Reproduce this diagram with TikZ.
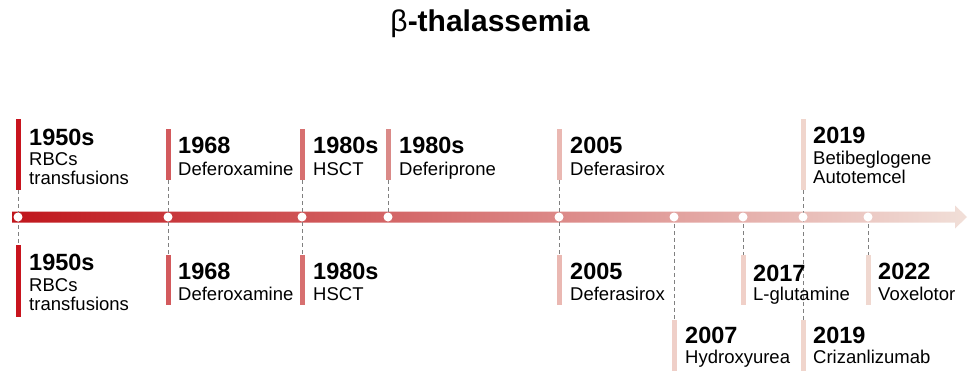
\documentclass[tikz,border=0pt]{standalone}
\usepackage{fontspec}
\setmainfont{Liberation Sans}
\usetikzlibrary{positioning}
\definecolor{tRed}{HTML}{C0161C}
\definecolor{tMid}{HTML}{DF9A96}
\definecolor{tPink}{HTML}{F1DFD8}
\definecolor{cA}{HTML}{C8141E}
\definecolor{cB}{HTML}{D35A5D}
\definecolor{cC}{HTML}{D77070}
\definecolor{cD}{HTML}{DA8A88}
\definecolor{cE}{HTML}{EAB8B2}
\definecolor{cF}{HTML}{EFCFC8}
\definecolor{cG}{HTML}{F0D0C8}
\definecolor{cH}{HTML}{F0D5CC}
\definecolor{cI}{HTML}{F0D8D0}

\begin{document}
\begin{tikzpicture}[x=1pt, y=-1pt,
  yr/.style={anchor=base west, inner sep=0pt, font=\fontsize{23.5}{26}\selectfont\bfseries},
  lbl/.style={anchor=base west, inner sep=0pt, align=left,
              font=\fontsize{18.5}{19}\selectfont},
  stem/.style={line width=5pt},
  guide/.style={draw=gray, line width=1pt, dash pattern=on 4pt off 3pt},
  dot/.style={circle, fill=white, inner sep=0pt, minimum size=9pt},
]
  \useasboundingbox (0,0) rectangle (969,370);

  % title
  \node (title) at (490,24) {\fontsize{30}{34}\selectfont β\bfseries -thalassemia};

  % main axis
  \shade[left color=tRed, middle color=tMid, right color=tPink]
    (12,211.5) -- (955,211.5) -- (955,205.5) -- (967,217) -- (955,228.5)
    -- (955,222.5) -- (12,222.5) -- cycle;

  % bar ends
  \coordinate (a1) at (18,119);  \coordinate (a2) at (18,190);
  \coordinate (a3) at (18,245);  \coordinate (a4) at (18,317);
  \coordinate (b1) at (168,129); \coordinate (b2) at (168,180);
  \coordinate (b3) at (168,255); \coordinate (b4) at (168,305);
  \coordinate (c1) at (302,129); \coordinate (c2) at (302,180);
  \coordinate (c3) at (302,255); \coordinate (c4) at (302,305);
  \coordinate (d1) at (388,129); \coordinate (d2) at (388,180);
  \coordinate (e1) at (559,129); \coordinate (e2) at (559,180);
  \coordinate (e3) at (559,255); \coordinate (e4) at (559,305);
  \coordinate (f3) at (674,320); \coordinate (f4) at (674,372);
  \coordinate (g3) at (743,255); \coordinate (g4) at (743,305);
  \coordinate (h1) at (803,119); \coordinate (h2) at (803,190);
  \coordinate (h3) at (803,320); \coordinate (h4) at (803,372);
  \coordinate (i3) at (868,255); \coordinate (i4) at (868,305);

  % dashed guides
  \draw[guide] (a2) -- (a3);
  \draw[guide] (b2) -- (b3);
  \draw[guide] (c2) -- (c3);
  \draw[guide] (d2) -- (d1 |- 0,217);
  \draw[guide] (e2) -- (e3);
  \draw[guide] (f3 |- 0,217) -- (f3);
  \draw[guide] (g3 |- 0,217) -- (g3);
  \draw[guide] (h2) -- (h3);
  \draw[guide] (i3 |- 0,217) -- (i3);

  % dots
  \node[dot] (da) at (18,217) {};
  \node[dot] (db) at (168,217) {};
  \node[dot] (dc) at (302,217) {};
  \node[dot] (dd) at (388,217) {};
  \node[dot] (de) at (559,217) {};
  \node[dot] (df) at (674,217) {};
  \node[dot] (dg) at (743,217) {};
  \node[dot] (dh) at (803,217) {};
  \node[dot] (di) at (868,217) {};

  % bars
  \draw[stem, cA] (a1) -- (a2);  \draw[stem, cA] (a3) -- (a4);
  \draw[stem, cB] (b1) -- (b2);  \draw[stem, cB] (b3) -- (b4);
  \draw[stem, cC] (c1) -- (c2);  \draw[stem, cC] (c3) -- (c4);
  \draw[stem, cD] (d1) -- (d2);
  \draw[stem, cE] (e1) -- (e2);  \draw[stem, cE] (e3) -- (e4);
  \draw[stem, cF] (f3) -- (f4);
  \draw[stem, cG] (g3) -- (g4);
  \draw[stem, cH] (h1) -- (h2);  \draw[stem, cH] (h3) -- (h4);
  \draw[stem, cI] (i3) -- (i4);

  % above the axis (multi-line labels sit on their last line)
  \node[yr] (ya1) at (29,145) {1950s};
  \node[lbl] (la1) at (29,184) {RBCs\\transfusions};
  \node[yr] (yb1) at (178,153) {1968};
  \node[lbl] (lb1) at (178,175) {Deferoxamine};
  \node[yr] (yc1) at (313,153) {1980s};
  \node[lbl] (lc1) at (313,175) {HSCT};
  \node[yr] (yd1) at (399,153) {1980s};
  \node[lbl] (ld1) at (399,175) {Deferiprone};
  \node[yr] (ye1) at (570,153) {2005};
  \node[lbl] (le1) at (570,175) {Deferasirox};
  \node[yr] (yh1) at (813,143) {2019};
  \node[lbl] (lh1) at (813,183) {Betibeglogene\\Autotemcel};

  % below the axis
  \node[yr] (ya3) at (29,270) {1950s};
  \node[lbl] (la3) at (29,310) {RBCs\\transfusions};
  \node[yr] (yb3) at (178,279) {1968};
  \node[lbl] (lb3) at (178,300) {Deferoxamine};
  \node[yr] (yc3) at (313,279) {1980s};
  \node[lbl] (lc3) at (313,300) {HSCT};
  \node[yr] (ye3) at (570,279) {2005};
  \node[lbl] (le3) at (570,300) {Deferasirox};
  \node[yr] (yg3) at (753,281) {2017};
  \node[lbl] (lg3) at (753,300) {L-glutamine};
  \node[yr] (yi3) at (878,279) {2022};
  \node[lbl] (li3) at (878,300) {Voxelotor};
  \node[yr] (yf3) at (685,343) {2007};
  \node[lbl] (lf3) at (685,363) {Hydroxyurea};
  \node[yr] (yh3) at (813,343) {2019};
  \node[lbl] (lh3) at (813,363) {Crizanlizumab};
\end{tikzpicture}
\end{document}
